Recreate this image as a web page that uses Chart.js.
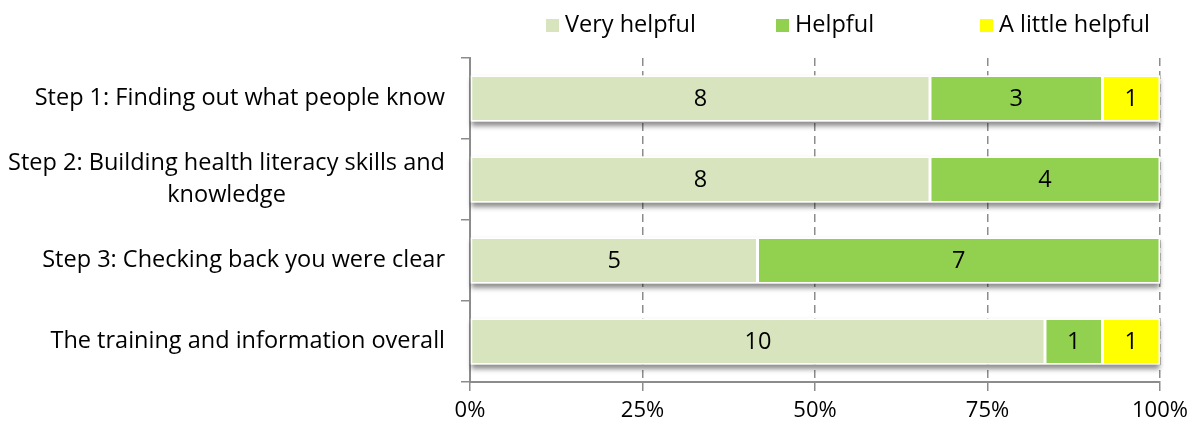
<!DOCTYPE html>
<html>
<head>
<meta charset="utf-8">
<script src="https://cdn.jsdelivr.net/npm/chart.js@4.4.1/dist/chart.umd.min.js"></script>
<style>
  html, body { margin: 0; padding: 0; background: #fff; }
  #wrap { width: 1197px; height: 430px; position: relative; }
</style>
</head>
<body>
<div id="wrap"><canvas id="helpChart"></canvas></div>
<script>
const categories = [
  "Step 1: Finding out what people know",
  ["Step 2: Building health literacy skills and", "knowledge"],
  "Step 3: Checking back you were clear",
  "The training and information overall",
];
const seriesNames = ["Very helpful", "Helpful", "A little helpful"];
const veryHelpful = [8, 8, 5, 10];
const helpful = [3, 4, 7, 1];
const littleHelpful = [1, 0, 0, 1];
const seriesColors = ["#d7e4bd", "#92d050", "#ffff00"];
const xTicks = [0, 25, 50, 75, 100];

const FONT = "'Open Sans', sans-serif";
const FONT_SIZE = 23.5;
const counts = [veryHelpful, helpful, littleHelpful];
const totals = categories.map((_, i) => counts.reduce((s, arr) => s + arr[i], 0));

// each segment is plotted as its share of the row total
const datasets = counts.map((arr, k) => ({
  label: seriesNames[k],
  data: arr.map((v, i) => (v / totals[i]) * 100),
  counts: arr,
  backgroundColor: seriesColors[k],
  borderColor: "#ffffff",
  borderWidth: 1.5,
  borderSkipped: false,
  categoryPercentage: 0.57,
  barPercentage: 1,
}));

// soft grey shadow under each full row of segments
const barShadow = {
  id: "barShadow",
  beforeDatasetsDraw(chart) {
    const ctx = chart.ctx;
    const metas = chart.data.datasets.map((_, k) => chart.getDatasetMeta(k));
    ctx.save();
    ctx.shadowColor = "rgba(0,0,0,0.45)";
    ctx.shadowBlur = 5;
    ctx.shadowOffsetY = 4;
    ctx.fillStyle = "#ffffff";
    categories.forEach((_, i) => {
      const bars = metas.map((m) => m.data[i]).filter((b) => b && b.x !== b.base);
      if (!bars.length) return;
      const left = Math.min(...bars.map((b) => Math.min(b.x, b.base)));
      const right = Math.max(...bars.map((b) => Math.max(b.x, b.base)));
      const h = bars[0].height;
      ctx.fillRect(left, bars[0].y - h / 2, right - left, h);
    });
    ctx.restore();
  },
};

// count written in the middle of each segment
const segmentLabels = {
  id: "segmentLabels",
  afterDatasetsDraw(chart) {
    const ctx = chart.ctx;
    ctx.save();
    ctx.font = FONT_SIZE + "px " + FONT;
    ctx.fillStyle = "#000";
    ctx.textAlign = "center";
    ctx.textBaseline = "middle";
    chart.data.datasets.forEach((ds, k) => {
      chart.getDatasetMeta(k).data.forEach((bar, i) => {
        const n = ds.counts[i];
        if (!n) return;
        ctx.fillText(String(n), (bar.x + bar.base) / 2, bar.y + 1);
      });
    });
    ctx.restore();
  },
};

// category names, multi-line ones centred on each other, block right aligned
const categoryLabels = {
  id: "categoryLabels",
  afterDraw(chart) {
    const ctx = chart.ctx;
    const y = chart.scales.y;
    const right = y.right - 25;
    ctx.save();
    ctx.font = FONT_SIZE + "px " + FONT;
    ctx.fillStyle = "#000";
    ctx.textBaseline = "middle";
    ctx.textAlign = "center";
    categories.forEach((c, i) => {
      const lines = Array.isArray(c) ? c : [c];
      const widest = Math.max(...lines.map((l) => ctx.measureText(l).width));
      const mid = right - widest / 2;
      const cy = y.getPixelForTick(i);
      const lh = 32;
      lines.forEach((l, j) => {
        ctx.fillText(l, mid, cy + (j - (lines.length - 1) / 2) * lh);
      });
    });
    ctx.restore();
  },
};

// legend row above the plot
const topLegend = {
  id: "topLegend",
  afterDraw(chart) {
    const ctx = chart.ctx;
    const starts = [546, 776, 980];
    ctx.save();
    ctx.font = FONT_SIZE + "px " + FONT;
    ctx.textBaseline = "middle";
    chart.data.datasets.forEach((ds, k) => {
      ctx.fillStyle = ds.backgroundColor;
      ctx.fillRect(starts[k], 19, 13, 13);
      ctx.fillStyle = "#000";
      ctx.fillText(ds.label, starts[k] + 19, 25);
    });
    ctx.restore();
  },
};

new Chart(document.getElementById("helpChart"), {
  type: "bar",
  data: { labels: categories, datasets },
  plugins: [barShadow, segmentLabels, categoryLabels, topLegend],
  options: {
    indexAxis: "y",
    responsive: true,
    maintainAspectRatio: false,
    animation: false,
    layout: { padding: { top: 58, right: 37, left: 0, bottom: 0 } },
    plugins: { legend: { display: false }, tooltip: { enabled: false } },
    scales: {
      x: {
        stacked: true,
        min: 0,
        max: 100,
        afterBuildTicks(scale) {
          scale.ticks = xTicks.map((v) => ({ value: v }));
        },
        afterFit(scale) {
          scale.height = 48;
        },
        ticks: {
          callback: (v) => v + "%",
          font: { family: FONT, size: 22 },
          color: "#000",
          padding: 7,
          maxRotation: 0,
        },
        grid: {
          color: (c) => (c.index === 0 ? "rgba(0,0,0,0)" : "#8c8c8c"),
          lineWidth: 1.5,
          tickColor: "#8c8c8c",
          tickLength: 9,
          tickBorderDash: [],
        },
        border: { display: true, color: "#8c8c8c", width: 2, dash: [8, 5] },
      },
      y: {
        stacked: true,
        afterFit(scale) {
          scale.width = 470;
        },
        ticks: { display: false },
        grid: {
          offset: true,
          drawOnChartArea: false,
          color: "#8c8c8c",
          tickLength: 9,
          lineWidth: 1.5,
        },
        border: { display: true, color: "#8c8c8c", width: 2 },
      },
    },
  },
});
</script>
</body>
</html>
